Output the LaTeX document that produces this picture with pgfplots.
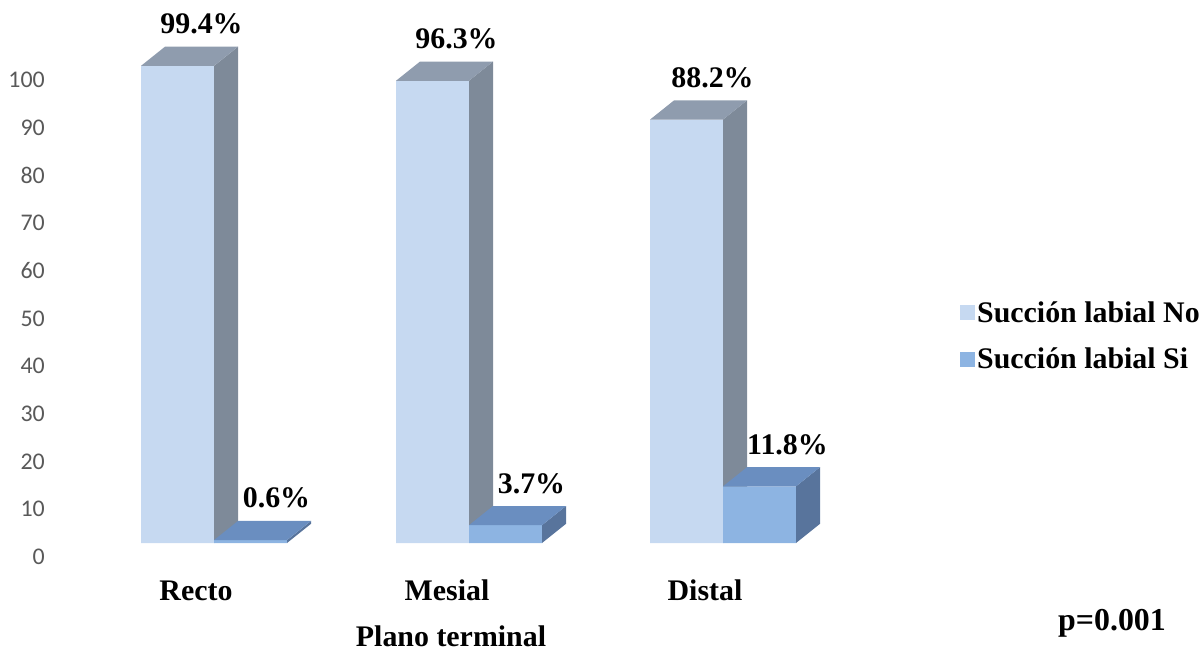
\documentclass[border=0pt]{standalone}
\usepackage{pgfplots}
\pgfplotsset{compat=1.18}
\usepackage{fontspec}
\setmainfont{Liberation Serif}
\newfontfamily\calibri{Carlito}
\definecolor{nofront}{HTML}{C6D9F1}
\definecolor{noside}{HTML}{7E8A99}
\definecolor{notop}{HTML}{8F9CAE}
\definecolor{sifront}{HTML}{8DB4E2}
\definecolor{siside}{HTML}{58749C}
\definecolor{sitop}{HTML}{6A8EC0}
\definecolor{ticktext}{HTML}{595959}
\newcommand{\lblfont}{\fontsize{30}{34}\selectfont\bfseries}
\pgfplotsset{sqlegend/.style={legend image code/.code={\fill[##1,draw=none] (0bp,-7.5bp) rectangle (15bp,7.5bp);}}}
% 3D faces of a bar: #1 left edge (px), #2 value, #3 side colour, #4 top colour
\newcommand{\barfaces}[4]{%
  \pgfmathsetmacro{\bR}{#1+73}%
  \pgfmathsetmacro{\bRb}{#1+97}%
  \pgfmathsetmacro{\bLb}{#1+24}%
  \pgfmathsetmacro{\bVb}{#2+4}%
  \addplot[fill=#3, draw=none, forget plot] coordinates {(\bR,0) (\bRb,4) (\bRb,\bVb) (\bR,#2)} -- cycle;
  \addplot[fill=#4, draw=none, forget plot] coordinates {(#1,#2) (\bR,#2) (\bRb,\bVb) (\bLb,\bVb)} -- cycle;
}
\begin{document}
\begin{tikzpicture}
\begin{axis}[
  name=ax,
  x=1bp, y=4.8bp,
  xmin=0, xmax=1204, ymin=-23.125, ymax=113.125,
  clip=false,
  axis line style={draw=none},
  major tick length=0pt,
  tick style={draw=none},
  ytick={-2.917,7.021,16.958,26.896,36.833,46.771,56.708,66.646,76.583,86.521,96.458},
  yticklabels={0,10,20,30,40,50,60,70,80,90,100},
  yticklabel style={anchor=east, inner sep=0pt, xshift=45bp, font=\calibri\fontsize{24}{28}\selectfont, text=ticktext},
  xtick={196,447,705},
  xticklabels={Recto,Mesial,Distal},
  xticklabel style={anchor=base, inner sep=0pt, yshift=54bp, font=\lblfont},
  xlabel={Plano terminal},
  xlabel style={at={(axis description cs:0.3746,0.0275)}, anchor=center, inner sep=0pt, font=\lblfont},
  legend style={at={(axis cs:957,43.1)}, anchor=west, draw=none, fill=none,
    font=\lblfont, row sep=20bp},
  legend cell align=left,
]
% Succion labial No
\addplot[ybar, bar width=73, bar shift=0pt, fill=nofront, draw=none, sqlegend]
  coordinates {(177.5,99.4) (432.5,96.3) (686.5,88.2)};
\addlegendentry{Succión labial No}
\barfaces{141}{99.4}{noside}{notop}
\barfaces{396}{96.3}{noside}{notop}
\barfaces{650}{88.2}{noside}{notop}
% Succion labial Si
\addplot[ybar, bar width=73, bar shift=0pt, fill=sifront, draw=none, sqlegend]
  coordinates {(250.5,0.6) (505.5,3.7) (759.5,11.8)};
\addlegendentry{Succión labial Si}
\barfaces{214}{0.6}{siside}{sitop}
\barfaces{469}{3.7}{siside}{sitop}
\barfaces{723}{11.8}{siside}{sitop}
% data labels
\addplot[draw=none, mark=none, forget plot, point meta=explicit symbolic,
  nodes near coords, nodes near coords style={anchor=base, yshift=13bp, inner sep=0pt,
  font=\lblfont}]
  coordinates {(201.5,103.4) [99.4\%] (456.5,100.3) [96.3\%] (712.5,92.2) [88.2\%]
               (276.5,4.6) [0.6\%] (531.5,7.7) [3.7\%] (787.5,15.8) [11.8\%]};
\node[font=\fontsize{32}{36}\selectfont\bfseries] at (axis cs:1112,-16.67) {p=0.001};
\end{axis}
\pgfresetboundingbox
\path[use as bounding box] (ax.south west) rectangle (ax.north east);
\end{tikzpicture}
\end{document}
